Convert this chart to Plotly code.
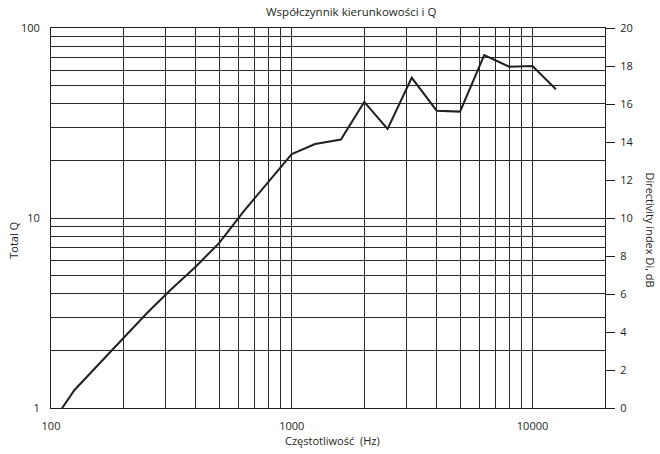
import numpy as np
import plotly.graph_objects as go

freq_hz = [100, 125, 160, 200, 250, 315, 400, 500, 630, 800, 1000, 1250, 1600,
           2000, 2500, 3150, 4000, 5000, 6300, 8000, 10000, 12500]
total_q = [0.82, 1.24, 1.73, 2.33, 3.15, 4.2, 5.56, 7.4, 10.8, 15.5, 21.7, 24.5, 25.9,
           40.8, 29.4, 54.7, 36.7, 36.3, 72.1, 62.6, 63.1, 47.6]

x_grid = [100, 200, 300, 400, 500, 600, 700, 800, 900, 1000, 2000, 3000, 4000, 5000,
          6000, 7000, 8000, 9000, 10000]
x_labels = {100: "100", 1000: "1000", 10000: "10000"}
y_grid = [1, 2, 3, 4, 5, 6, 7, 8, 9, 10, 20, 30, 40, 50, 60, 70, 80, 90, 100]
y_labels = {1: "1", 10: "10", 100: "100"}
di_ticks = [0, 2, 4, 6, 8, 10, 12, 14, 16, 18, 20]

title_text = "Współczynnik kierunkowości i Q"
x_title = "Częstotliwość  (Hz)"
y_title = "Total Q"
y2_title = "Directivity index Di, dB"

FONT = "Open Sans"
INK = "#231f20"

fig = go.Figure()
fig.add_trace(go.Scatter(x=freq_hz, y=total_q, mode="lines",
                         line=dict(color=INK, width=2), showlegend=False,
                         hoverinfo="x+y"))
# invisible companion trace on the dB axis so that axis is drawn
fig.add_trace(go.Scatter(x=freq_hz, y=[10 * np.log10(q) for q in total_q], yaxis="y2",
                         mode="lines", line=dict(color="rgba(0,0,0,0)", width=0),
                         showlegend=False, hoverinfo="skip"))

fig.update_layout(
    width=660, height=454,
    margin=dict(l=51, r=55, t=28, b=46, autoexpand=False),
    paper_bgcolor="white", plot_bgcolor="white",
    font=dict(family=FONT, size=11, color=INK),
    xaxis=dict(type="log", range=[2, np.log10(20000)],
               tickvals=x_grid, ticktext=[x_labels.get(v, "") for v in x_grid],
               showgrid=True, gridcolor="#2a2a2a", gridwidth=1,
               showline=True, linecolor=INK, linewidth=1, mirror=True,
               ticks="", ticklabelstandoff=8, zeroline=False),
    yaxis=dict(type="log", range=[0, 2],
               tickvals=y_grid, ticktext=[y_labels.get(v, "") for v in y_grid],
               showgrid=True, gridcolor="#2a2a2a", gridwidth=1,
               showline=True, linecolor=INK, linewidth=1,
               ticks="", ticklabelstandoff=8, zeroline=False),
    yaxis2=dict(overlaying="y", side="right", range=[0, 20], tickvals=di_ticks,
                showgrid=False, zeroline=False, showline=True, linecolor=INK,
                linewidth=1, ticks="outside", ticklen=9, tickcolor=INK,
                ticklabelstandoff=3),
    annotations=[
        dict(text=title_text, xref="paper", yref="paper", x=0.5415, y=1,
             yshift=17, xanchor="center", yanchor="middle", showarrow=False,
             font=dict(size=11.5)),
        dict(text=x_title, xref="paper", yref="paper", x=0.508, y=0, yshift=-32,
             xanchor="center", yanchor="middle", showarrow=False, font=dict(size=11)),
        dict(text=y_title, xref="paper", yref="paper", x=0, xshift=-37, y=0.44,
             xanchor="center", yanchor="middle", textangle=-90, showarrow=False,
             font=dict(size=11)),
        dict(text=y2_title, xref="paper", yref="paper", x=1, xshift=46, y=0.47,
             xanchor="center", yanchor="middle", textangle=90, showarrow=False,
             font=dict(size=11)),
    ],
)

fig.write_html("out.html", config={"displayModeBar": False},
               post_script="document.body.style.margin='0';")
